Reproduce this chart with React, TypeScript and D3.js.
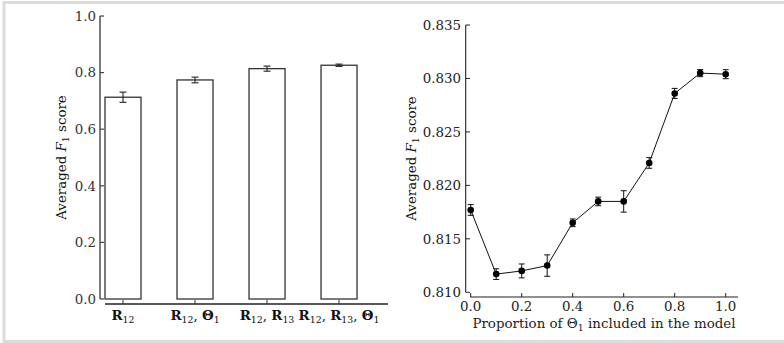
import React from "react";
import { scaleLinear, line } from "d3";

// left panel: bar chart of feature sets
const barLabels = [
  [["R", "12"]],
  [["R", "12"], ["Θ", "1"]],
  [["R", "12"], ["R", "13"]],
  [["R", "12"], ["R", "13"], ["Θ", "1"]],
];
const barValues = [0.713, 0.774, 0.814, 0.826];
const barErrors = [0.018, 0.01, 0.009, 0.004];
const barTicks = [0, 0.2, 0.4, 0.6, 0.8, 1.0];

// right panel: proportion of Theta_1
const propX = [0, 0.1, 0.2, 0.3, 0.4, 0.5, 0.6, 0.7, 0.8, 0.9, 1.0];
const propY = [0.8177, 0.8117, 0.812, 0.8125, 0.8165, 0.8185, 0.8185, 0.8221, 0.8286, 0.8305, 0.8304];
const propErr = [0.0005, 0.0005, 0.00065, 0.001, 0.00036, 0.0004, 0.001, 0.0005, 0.00047, 0.00033, 0.00042];
const propXTicks = [0, 0.2, 0.4, 0.6, 0.8, 1.0];
const propYTicks = [0.81, 0.815, 0.82, 0.825, 0.83, 0.835];

const FONT = "DejaVu Serif";
const FS = 13.4;

const YLabel = ({ x, y }: { x: number; y: number }) => (
  <text transform={`translate(${x},${y}) rotate(-90)`} textAnchor="middle" fontFamily={FONT} fontSize={FS} fill="#111">
    Averaged <tspan fontStyle="italic">F</tspan>
    <tspan fontSize={FS * 0.7} dy={3}>1</tspan>
    <tspan dy={-3}> score</tspan>
  </text>
);

const App = () => {
  // left scales
  const xL = scaleLinear().domain([-0.25, 3.68]).range([105, 388]);
  const yL = scaleLinear().domain([0, 1]).range([299, 16]);
  const bw = xL(0.5) - xL(0);

  // right scales
  const xR = scaleLinear().domain([0, 1]).range([470.7, 725.7]);
  const yR = scaleLinear().domain([0.81, 0.835]).range([292.3, 25]);
  const path = line<number>()
    .x((d, i) => xR(propX[i]))
    .y((d) => yR(d))(propY);

  const ink = "#222";

  return (
    <svg width={784} height={343} style={{ position: "absolute", left: 0, top: 0, background: "#fff" }}>
      <rect x={4} y={2.5} width={800} height={339} fill="none" stroke="#dcdcdc" strokeWidth={3} />

      {/* ---- left panel ---- */}
      {barValues.map((v, i) => (
        <g key={i}>
          <rect x={xL(i) - bw / 2} y={yL(v)} width={bw} height={yL(0) - yL(v)} fill="#fff" stroke="#333" strokeWidth={1.3} />
          <line x1={xL(i)} x2={xL(i)} y1={yL(v - barErrors[i])} y2={yL(v + barErrors[i])} stroke={ink} strokeWidth={1.1} />
          <line x1={xL(i) - 3.5} x2={xL(i) + 3.5} y1={yL(v - barErrors[i])} y2={yL(v - barErrors[i])} stroke={ink} strokeWidth={1.1} />
          <line x1={xL(i) - 3.5} x2={xL(i) + 3.5} y1={yL(v + barErrors[i])} y2={yL(v + barErrors[i])} stroke={ink} strokeWidth={1.1} />
          <line x1={xL(i)} x2={xL(i)} y1={304} y2={300} stroke="#333" strokeWidth={1} />
          <text x={xL(i)} y={320} textAnchor="middle" fontFamily={FONT} fontSize={FS} fill="#111">
            {barLabels[i].map((p, j) => (
              <React.Fragment key={j}>
                {j > 0 && <tspan dy={-3}>, </tspan>}
                <tspan fontWeight="bold">{p[0]}</tspan>
                <tspan fontSize={FS * 0.7} dy={3}>{p[1]}</tspan>
              </React.Fragment>
            ))}
          </text>
        </g>
      ))}
      <line x1={100} x2={100} y1={yL(1)} y2={yL(0)} stroke="#444" strokeWidth={1.4} />
      <line x1={105} x2={388} y1={304} y2={304} stroke="#222" strokeWidth={1.3} />
      {barTicks.map((t) => (
        <g key={t}>
          <line x1={100} x2={104} y1={yL(t)} y2={yL(t)} stroke="#444" strokeWidth={1.2} />
          <text x={96} y={yL(t) + 4.8} textAnchor="end" fontFamily={FONT} fontSize={FS} fill="#333">
            {t.toFixed(1)}
          </text>
        </g>
      ))}
      <YLabel x={66} y={157.5} />

      {/* ---- right panel ---- */}
      <line x1={465.7} x2={465.7} y1={yR(0.835)} y2={yR(0.81)} stroke={ink} strokeWidth={1.1} />
      <line x1={470} x2={738} y1={297} y2={297} stroke={ink} strokeWidth={1.1} />
      {propYTicks.map((t) => (
        <g key={t}>
          <line x1={465.7} x2={470} y1={yR(t)} y2={yR(t)} stroke={ink} strokeWidth={1} />
          <text x={461} y={yR(t) + 4.8} textAnchor="end" fontFamily={FONT} fontSize={FS} fill="#222">
            {t.toFixed(3)}
          </text>
        </g>
      ))}
      {propXTicks.map((t) => (
        <g key={t}>
          <line x1={xR(t)} x2={xR(t)} y1={297} y2={293} stroke={ink} strokeWidth={1} />
          <text x={xR(t)} y={311} textAnchor="middle" fontFamily={FONT} fontSize={FS} fill="#222">
            {t.toFixed(1)}
          </text>
        </g>
      ))}
      <path d={path ?? ""} fill="none" stroke="#111" strokeWidth={1} />
      {propY.map((v, i) => (
        <g key={i}>
          <line x1={xR(propX[i])} x2={xR(propX[i])} y1={yR(v - propErr[i])} y2={yR(v + propErr[i])} stroke="#111" strokeWidth={1} />
          <line x1={xR(propX[i]) - 3} x2={xR(propX[i]) + 3} y1={yR(v - propErr[i])} y2={yR(v - propErr[i])} stroke="#111" strokeWidth={1} />
          <line x1={xR(propX[i]) - 3} x2={xR(propX[i]) + 3} y1={yR(v + propErr[i])} y2={yR(v + propErr[i])} stroke="#111" strokeWidth={1} />
          <circle cx={xR(propX[i])} cy={yR(v)} r={3.3} fill="#000" />
        </g>
      ))}
      <text x={604} y={328} textAnchor="middle" fontFamily={FONT} fontSize={FS} fill="#222">
        Proportion of Θ<tspan fontSize={FS * 0.7} dy={3}>1</tspan>
        <tspan dy={-3}> included in the model</tspan>
      </text>
      <YLabel x={416} y={158.5} />
    </svg>
  );
};

export default App;
